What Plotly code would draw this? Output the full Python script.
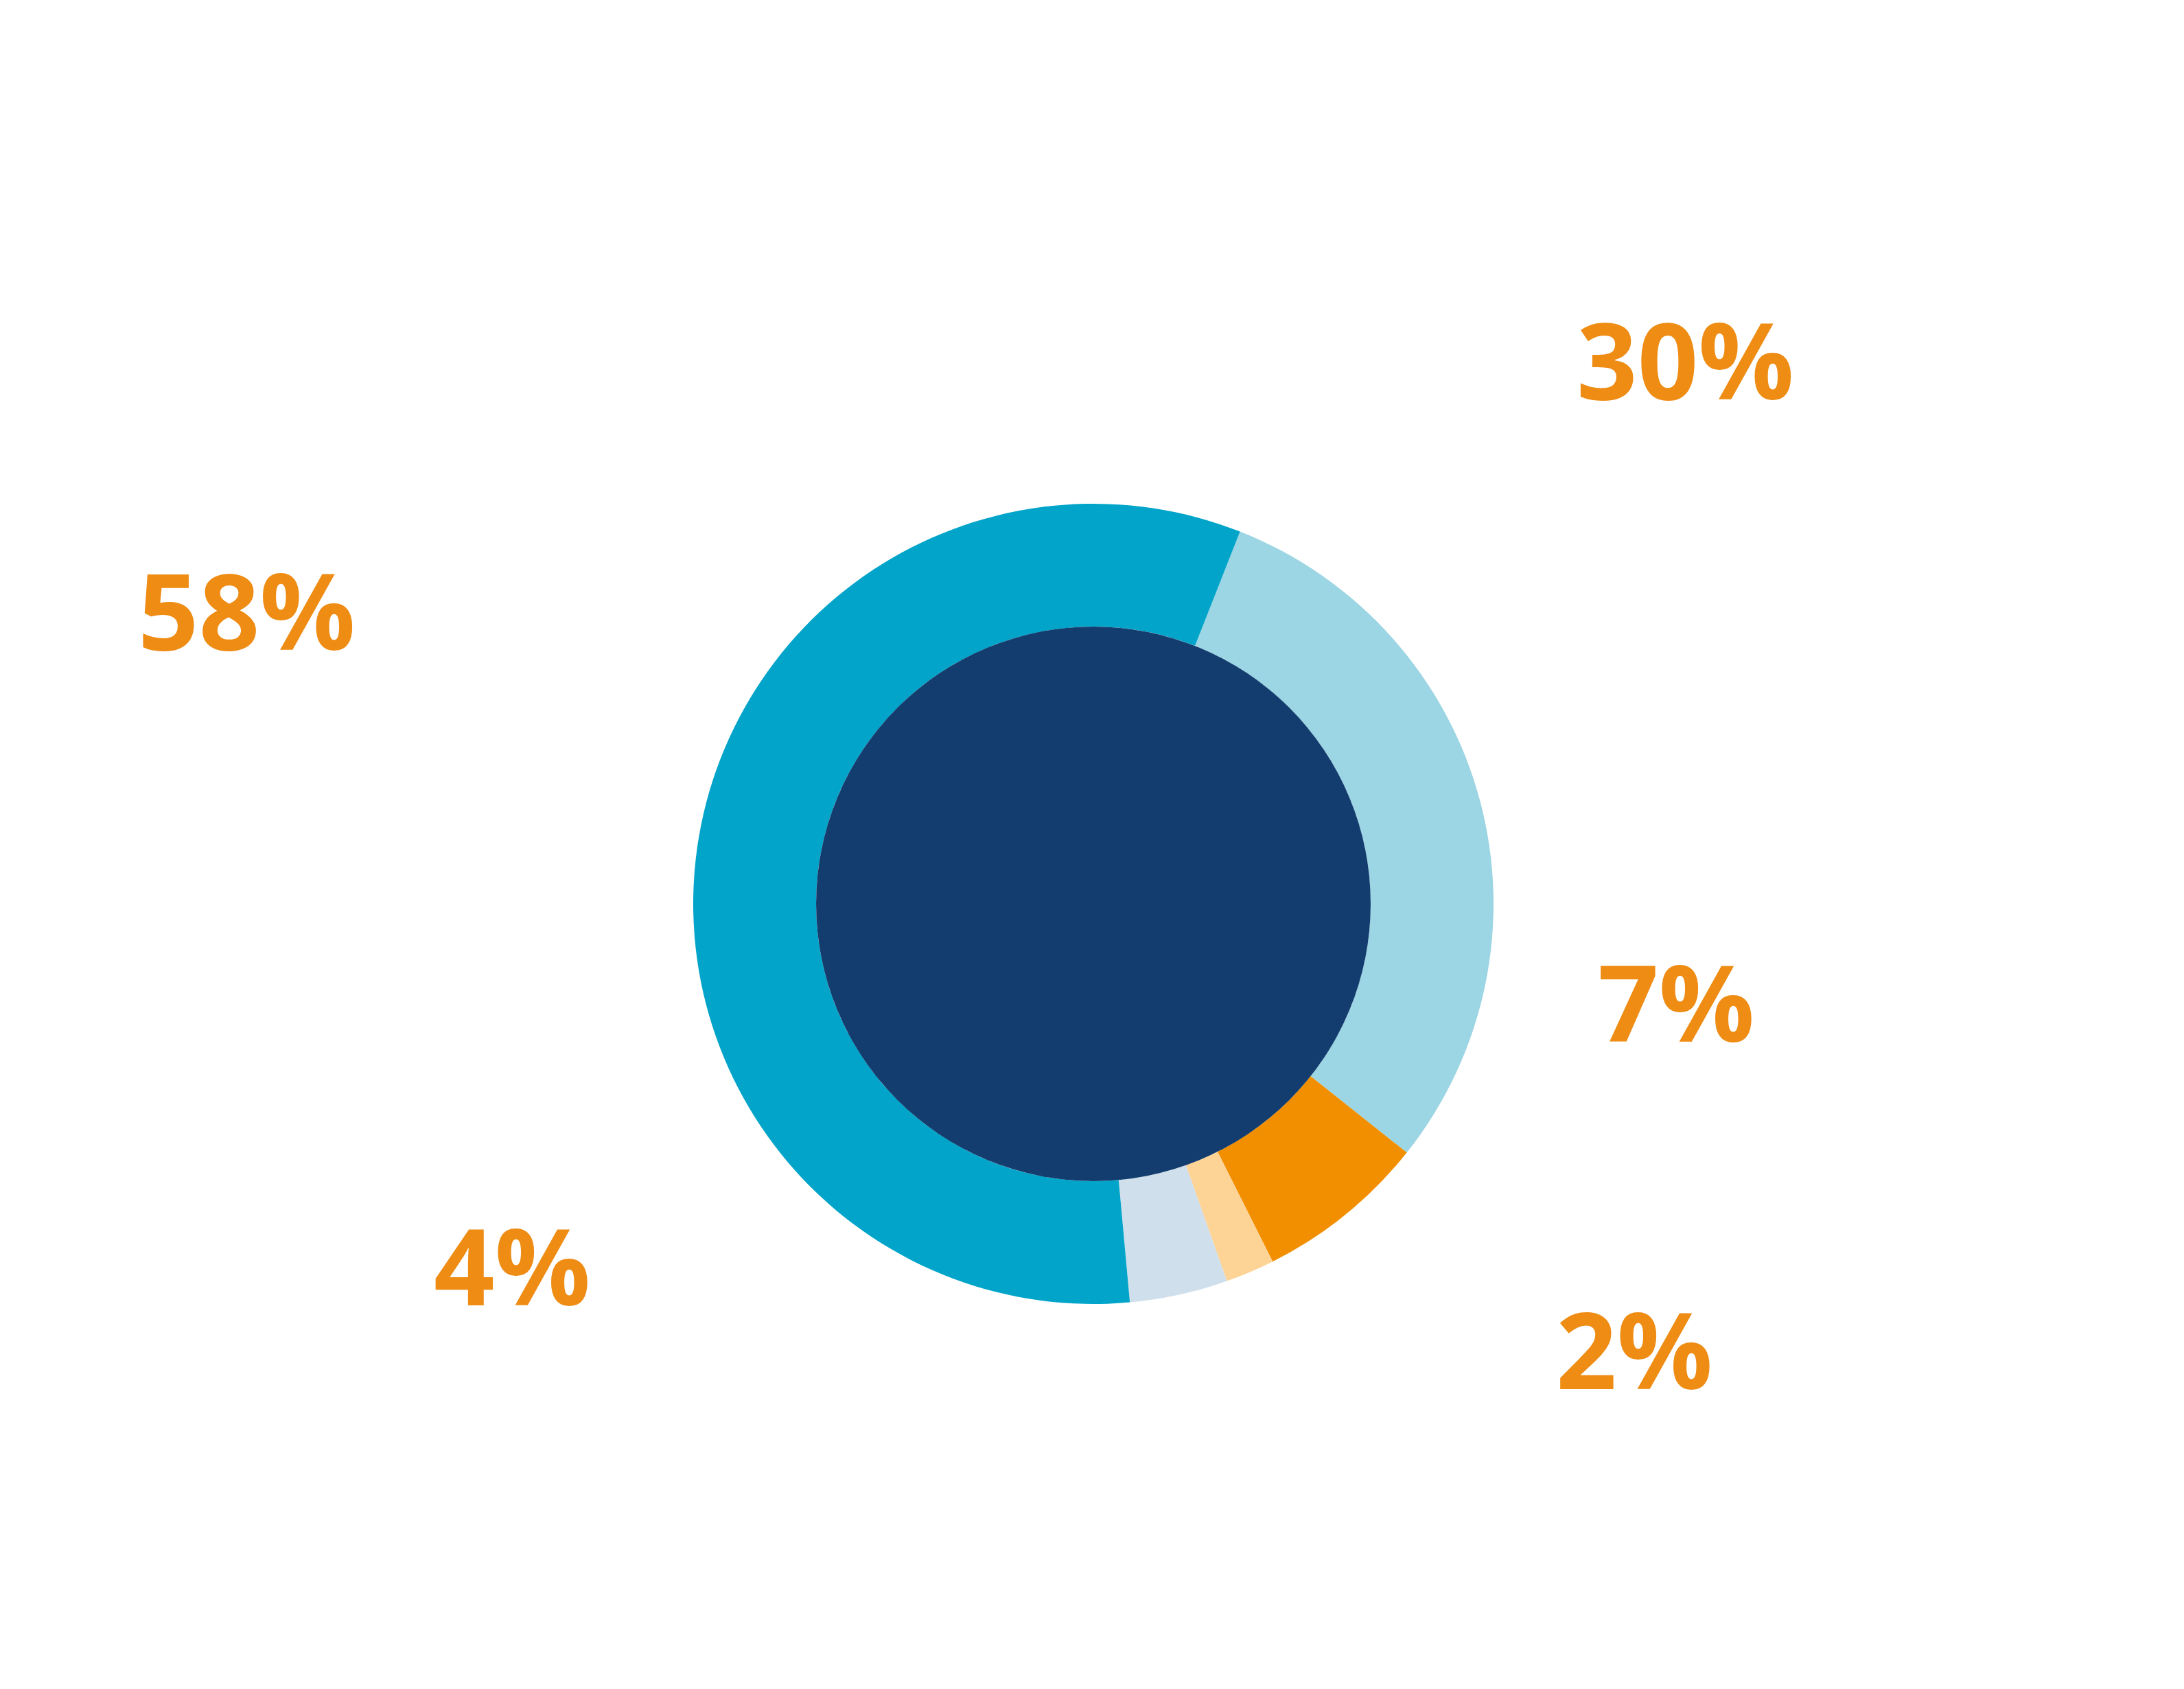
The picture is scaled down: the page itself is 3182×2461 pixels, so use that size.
import plotly.graph_objects as go

labels = ["A", "B", "C", "D", "E"]
values = [30, 7, 2, 4, 58]
colors = ["#9cd5e3", "#f18f00", "#fdd396", "#d0dfec", "#02a5c9"]
label_text = ["30%", "7%", "2%", "4%", "58%"]
label_pos = [(2608, 406), (2550, 1450), (2489, 2063), (622, 1941), (191, 771)]

W, H = 3182, 2461
cx, cy, R, r = 1585, 1309, 583, 404

fig = go.Figure(go.Pie(
    labels=labels, values=values, sort=False, direction="clockwise",
    rotation=21.5, hole=r / R, textinfo="none", hoverinfo="none",
    marker=dict(colors=colors, line=dict(width=0)),
    domain=dict(x=[(cx - R) / W, (cx + R) / W], y=[1 - (cy + R) / H, 1 - (cy - R) / H]),
    showlegend=False,
))
fig.add_shape(type="circle", xref="paper", yref="paper",
              x0=(cx - r) / W, x1=(cx + r) / W, y0=1 - (cy + r) / H, y1=1 - (cy - r) / H,
              fillcolor="#143d6f", line=dict(width=0), layer="above")
for t, (x, y) in zip(label_text, label_pos):
    fig.add_annotation(x=x / W, y=1 - y / H, xref="paper", yref="paper", text=f"<b>{t}</b>",
                       showarrow=False, font=dict(family="Open Sans", size=155, color="#ee8c14"))
fig.update_layout(width=W, height=H, margin=dict(l=0, r=0, t=0, b=0),
                  paper_bgcolor="white", plot_bgcolor="white")
fig.write_html("out.html")
